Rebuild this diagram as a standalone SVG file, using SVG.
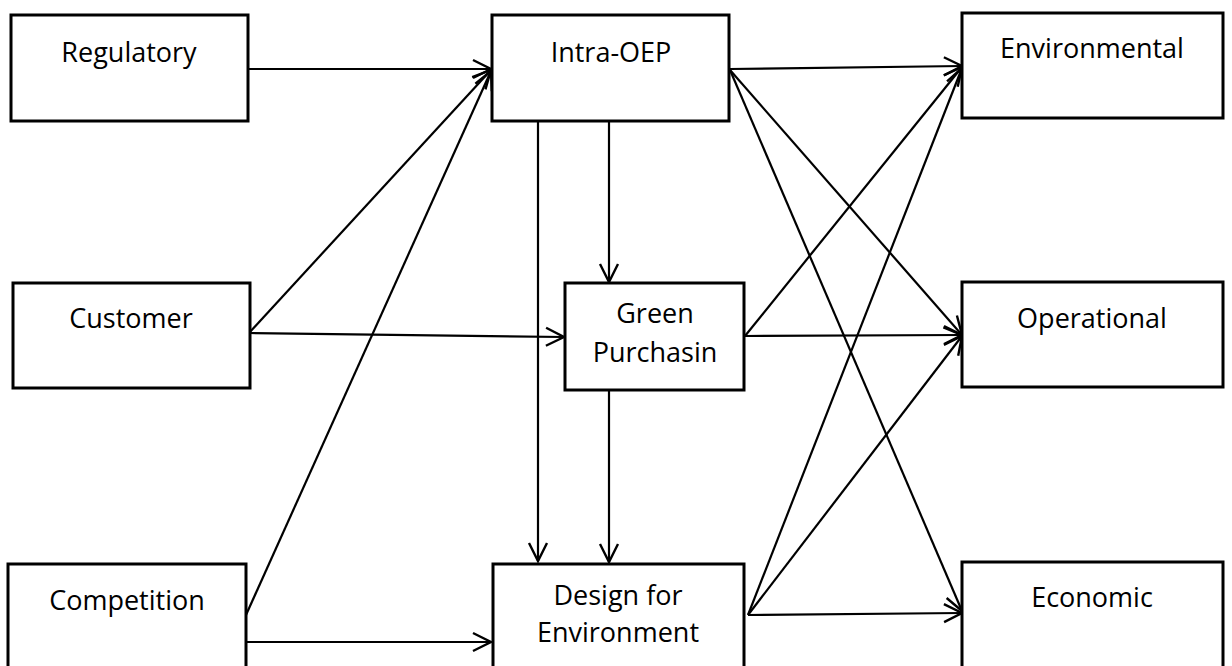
<svg xmlns="http://www.w3.org/2000/svg" width="1232" height="666" viewBox="0 0 1232 666">
  <style>
    .box { fill: #ffffff; stroke: #000000; stroke-width: 3; }
    .lbl { font-family: "Open Sans", "Liberation Sans", sans-serif; font-size: 27px; fill: #000000; text-anchor: middle; }
    .edge { fill: none; stroke: #000000; stroke-width: 2.2; marker-end: url(#arrow); }
  </style>
  <defs>
    <marker id="arrow" markerUnits="userSpaceOnUse" markerWidth="24" markerHeight="24" viewBox="-20 -12 24 24" refX="0" refY="0" orient="auto" overflow="visible">
      <path d="M-18,-9 L0,0 L-18,9" fill="none" stroke="#000000" stroke-width="2.4" stroke-linejoin="miter"/>
    </marker>
  </defs>

  <rect width="1232" height="666" fill="#ffffff"/>

  <g id="connectors">
    <!-- drivers into Intra-OEP -->
    <line class="edge" x1="249" y1="69" x2="491" y2="69"/>
    <line class="edge" x1="249" y1="333" x2="491" y2="70"/>
    <line class="edge" x1="246" y1="615" x2="491" y2="71"/>
    <!-- drivers into the practices -->
    <line class="edge" x1="249" y1="333" x2="564" y2="337"/>
    <line class="edge" x1="246" y1="642" x2="491" y2="642"/>
    <!-- Intra-OEP downward -->
    <line class="edge" x1="538" y1="117" x2="538" y2="561"/>
    <line class="edge" x1="609" y1="121" x2="609" y2="282"/>
    <line class="edge" x1="609" y1="390" x2="609" y2="562"/>
    <!-- Intra-OEP to outcomes -->
    <line class="edge" x1="730" y1="69" x2="962" y2="66"/>
    <line class="edge" x1="730" y1="70" x2="962" y2="335"/>
    <line class="edge" x1="730" y1="70" x2="962" y2="611"/>
    <!-- Green Purchasing to outcomes -->
    <line class="edge" x1="745" y1="336" x2="962" y2="67"/>
    <line class="edge" x1="745" y1="336" x2="962" y2="335"/>
    <!-- Design for Environment to outcomes -->
    <line class="edge" x1="748" y1="615" x2="962" y2="68"/>
    <line class="edge" x1="748" y1="615" x2="962" y2="336"/>
    <line class="edge" x1="748" y1="615" x2="962" y2="613"/>
  </g>

  <g id="regulatory">
    <rect class="box" x="11" y="15" width="237" height="106"/>
    <text class="lbl" x="129" y="62">Regulatory</text>
  </g>
  <g id="customer">
    <rect class="box" x="13" y="283" width="237" height="105"/>
    <text class="lbl" x="131" y="328">Customer</text>
  </g>
  <g id="competition">
    <rect class="box" x="8" y="564" width="238" height="110"/>
    <text class="lbl" x="127" y="610">Competition</text>
  </g>
  <g id="intra-oep">
    <rect class="box" x="492" y="15" width="237" height="106"/>
    <text class="lbl" x="611" y="62">Intra-OEP</text>
  </g>
  <g id="green-purchasing">
    <rect class="box" x="565" y="283" width="179" height="107"/>
    <text class="lbl" x="655" y="323">Green</text>
    <text class="lbl" x="655" y="362">Purchasin</text>
  </g>
  <g id="design-for-environment">
    <rect class="box" x="493" y="564" width="251" height="110"/>
    <text class="lbl" x="618" y="605">Design for</text>
    <text class="lbl" x="618" y="642">Environment</text>
  </g>
  <g id="environmental">
    <rect class="box" x="962" y="13" width="261" height="105"/>
    <text class="lbl" x="1092" y="58">Environmental</text>
  </g>
  <g id="operational">
    <rect class="box" x="962" y="282" width="261" height="105"/>
    <text class="lbl" x="1092" y="328">Operational</text>
  </g>
  <g id="economic">
    <rect class="box" x="962" y="562" width="261" height="112"/>
    <text class="lbl" x="1092" y="607">Economic</text>
  </g>
</svg>
